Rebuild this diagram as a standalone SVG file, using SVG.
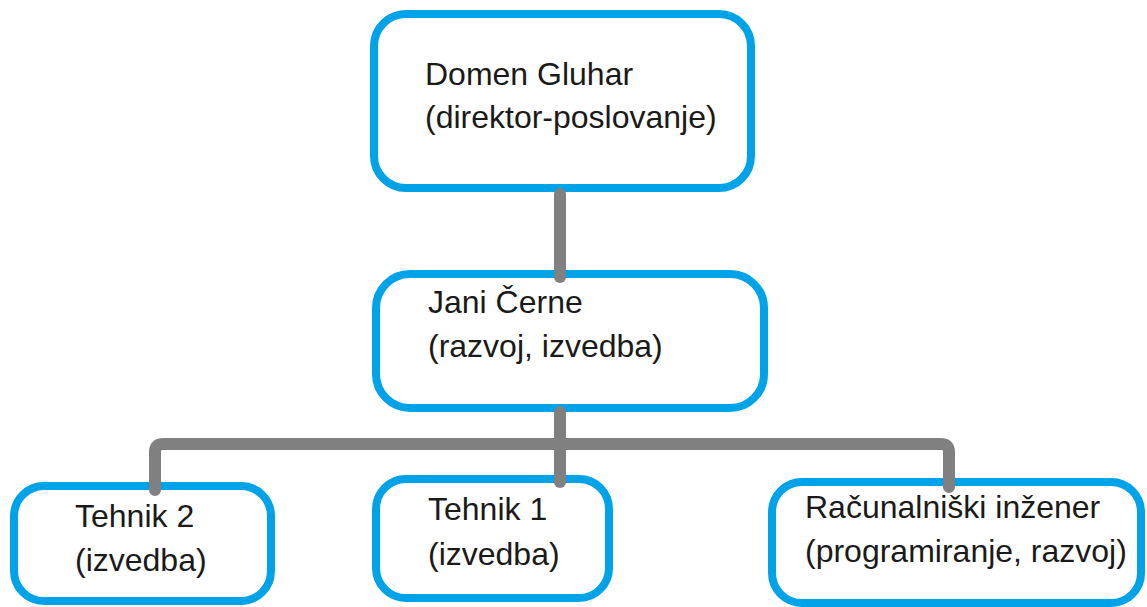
<svg xmlns="http://www.w3.org/2000/svg" width="1147" height="607" viewBox="0 0 1147 607">
<style>
.box{fill:#fff;stroke:#00A2E8;stroke-width:8}
.t{font-family:"Liberation Sans",Arial,sans-serif;font-size:32px;fill:#1a1a1a}
.c{fill:none;stroke:#808080;stroke-width:12;stroke-linecap:round;stroke-linejoin:round}
</style>
<rect width="1147" height="607" fill="#fff"/>
<g id="node-domen">
<rect class="box" x="374" y="14" width="377" height="174" rx="32"/>
<text class="t" x="425" y="85">Domen Gluhar</text>
<text class="t" x="425" y="128">(direktor-poslovanje)</text>
</g>
<g id="node-jani">
<rect class="box" x="376" y="274" width="388" height="134" rx="34"/>
<text class="t" x="428" y="313">Jani Černe</text>
<text class="t" x="428" y="357">(razvoj, izvedba)</text>
</g>
<g id="node-tehnik2">
<rect class="box" x="14" y="486" width="257" height="115" rx="30"/>
<text class="t" x="75" y="527">Tehnik 2</text>
<text class="t" x="75" y="571">(izvedba)</text>
</g>
<g id="node-tehnik1">
<rect class="box" x="376" y="479" width="233" height="119" rx="30"/>
<text class="t" x="428" y="520">Tehnik 1</text>
<text class="t" x="428" y="565">(izvedba)</text>
</g>
<g id="node-racunalniski">
<rect class="box" x="772" y="482" width="369" height="121" rx="30"/>
<text class="t" x="805" y="518">Računalniški inžener</text>
<text class="t" x="805" y="562">(programiranje, razvoj)</text>
</g>
<g id="connectors">
<path class="c" d="M560,194 V277"/>
<path class="c" d="M560,412 V482"/>
<path class="c" d="M155,490 V452 Q155,444 163,444 H941 Q949,444 949,452 V487"/>
</g>
</svg>
